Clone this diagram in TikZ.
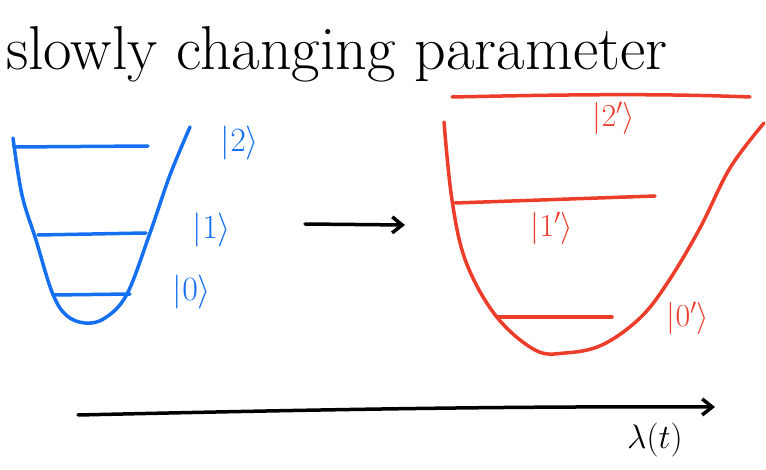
\documentclass[tikz,border=0pt]{standalone}
\usepackage{fix-cm}
\usetikzlibrary{arrows.meta}
\definecolor{inkblue}{RGB}{20,112,240}
\definecolor{inkred}{RGB}{236,60,42}
\begin{document}
\begin{tikzpicture}[x=1pt,y=-1pt,
  ink/.style={line width=3.5pt,line cap=round,line join=round},
  bl/.style={ink,inkblue},
  rd/.style={ink,inkred},
  blab/.style={text=inkblue,font=\fontsize{34}{40}\selectfont},
  rlab/.style={text=inkred,font=\fontsize{32}{38}\selectfont},
  arr/.style={ink,black,-{Straight Barb[length=10pt,width=16pt,line width=3.5pt]}}]
\useasboundingbox (0,0) rectangle (766,470);
% title
\node[font=\fontsize{62}{70}\selectfont,anchor=base west,inner sep=0pt] (title) at (6,70) {slowly changing parameter};
% blue well
\draw[bl] plot[smooth,tension=0.6] coordinates {(13,138) (22,195) (36,240) (52,292) (66,315) (85,323) (105,318) (127,294) (150,233) (170,175) (190,127)};
\draw[bl] (14,147) -- (148,146);
\draw[bl] (38,235) -- (146,233);
\draw[bl] (53,295) -- (130,294);
\node[blab] (k2) at (240,143) {$|2\rangle$};
\node[blab] (k1) at (212,230) {$|1\rangle$};
\node[blab] (k0) at (192,292) {$|0\rangle$};
% middle arrow
\coordinate (ma) at (305,224);
\coordinate (mb) at (405,225);
\draw[arr] (ma) -- (mb);
% red well
\draw[rd] (452,97) .. controls (550,95) and (650,93) .. (750,97);
\draw[rd] plot[smooth,tension=0.6] coordinates {(444,122) (452,200) (466,262) (496,316) (535,350) (565,353) (602,345) (640,318) (668,282) (700,228) (730,168) (764,123)};
\draw[rd] (455,203) -- (655,196);
\draw[rd] (497,317) -- (612,317);
\node[rlab] (r2) at (614,118) {$|2'\rangle$};
\node[rlab] (r1) at (552,228) {$|1'\rangle$};
\node[rlab] (r0) at (688,318) {$|0'\rangle$};
% bottom arrow
\coordinate (ba) at (78,415);
\coordinate (bb) at (715,407);
\draw[arr] (ba) .. controls (300,410) and (500,406) .. (bb);
\node[font=\fontsize{34}{40}\selectfont] (lam) at (655,440) {$\lambda(t)$};
\end{tikzpicture}
\end{document}
